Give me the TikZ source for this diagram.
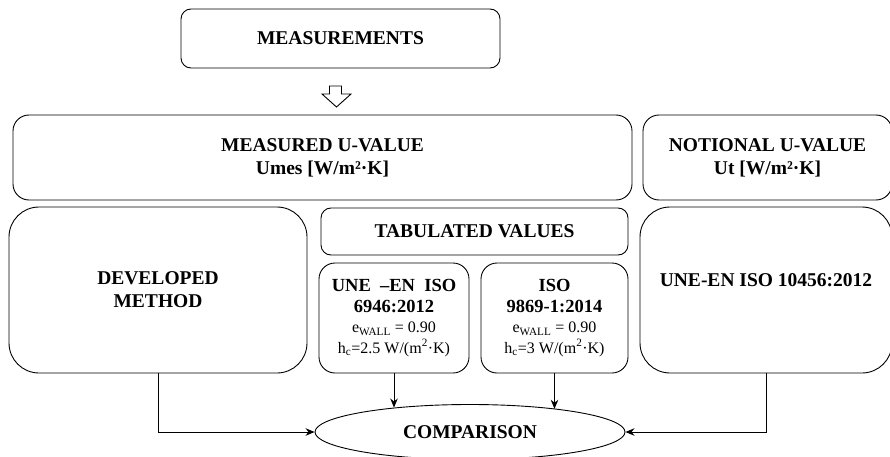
\documentclass[tikz,border=0pt]{standalone}
\usepackage{fontspec}
\setmainfont{Liberation Serif}
\usetikzlibrary{shapes.geometric,arrows.meta}

\newcommand{\smalltxt}{\mdseries\fontsize{16}{19}\selectfont}

\begin{document}
\begin{tikzpicture}[x=1pt,y=-1pt,
  box/.style={draw,line width=0.9pt,rounded corners=#1,inner sep=0pt,
    align=center,font=\bfseries\fontsize{19.5}{23}\selectfont},
  box/.default=12pt,
  arr/.style={line width=0.9pt,-{Stealth[length=9pt,width=7.5pt]}},
  link/.style={line width=0.9pt}]
  \useasboundingbox (0,0) rectangle (890,457);

  % top input
  \node[box=10pt,minimum width=319pt,minimum height=59pt] (meas) at (340.5,38.5) {MEASUREMENTS};
  \draw[link,fill=white] (329.5,86) -- (341.5,86) -- (341.5,94) -- (351,94)
    -- (336.5,107) -- (322,94) -- (329.5,94) -- cycle;

  % U-value row
  \node[box=16pt,minimum width=619pt,minimum height=85pt] (mu) at (322.5,157.5)
    {MEASURED U-VALUE\\Umes [W/m²·K]};
  \node[box=16pt,minimum width=249pt,minimum height=85pt] (nu) at (767.5,157.5)
    {NOTIONAL U-VALUE\\Ut [W/m²·K]};

  % methods row
  \node[box=30pt,minimum width=298pt,minimum height=166pt] (dev) at (158,290)
    {DEVELOPED\\METHOD};
  \node[box=10pt,minimum width=307pt,minimum height=47pt] (tab) at (474.5,231.5)
    {TABULATED VALUES};
  \node[box=16pt,minimum width=150pt,minimum height=110pt,
    font=\bfseries\fontsize{18.5}{20.5}\selectfont] (une) at (394,318)
    {UNE\ \ –EN\ \ ISO\\6946:2012\\
     \smalltxt e\textsubscript{WALL} = 0.90\\
     \smalltxt h\textsubscript{c}=2.5 W/(m\textsuperscript{2}·K)};
  \node[box=16pt,minimum width=147pt,minimum height=110pt,
    font=\bfseries\fontsize{18.5}{20.5}\selectfont] (iso) at (554.5,318)
    {ISO\\9869-1:2014\\
     \smalltxt e\textsubscript{WALL} = 0.90\\
     \smalltxt h\textsubscript{c}=3 W/(m\textsuperscript{2}·K)};
  \node[box=30pt,minimum width=252pt,minimum height=166pt,text depth=20pt] (std) at (766,290)
    {UNE-EN ISO 10456:2012};

  % comparison
  \node[draw,ellipse,line width=0.9pt,inner sep=0pt,minimum width=310pt,minimum height=55pt,
    font=\bfseries\fontsize{19.5}{23}\selectfont] (cmp) at (470,432) {COMPARISON};

  \draw[arr] (dev.south) |- (cmp.west);
  \draw[arr] (std.south) |- (cmp.east);
  \draw[arr] (une.south) -- (une.south |- cmp.162);
  \draw[arr] (iso.south) -- (iso.south |- cmp.15);
\end{tikzpicture}
\end{document}
